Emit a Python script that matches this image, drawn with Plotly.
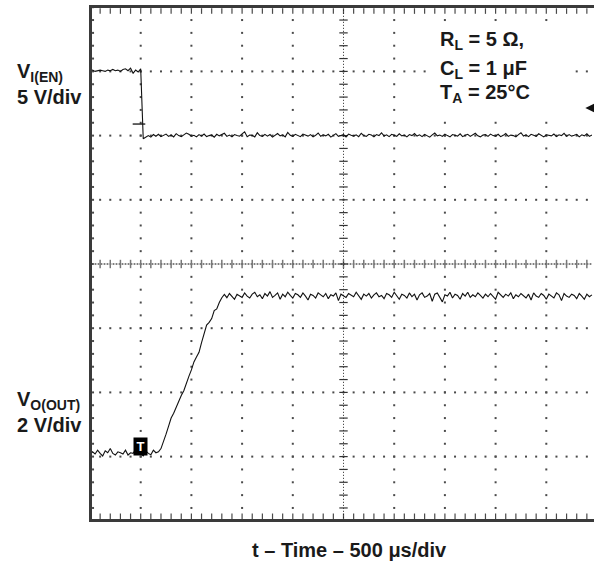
import numpy as np
import plotly.graph_objects as go

# ---------------- data ----------------
SAMPLE_US = 25            # sample interval, µs
TIME_PER_DIV_US = 500
EN_V_PER_DIV = 5          # V_I(EN) 5 V/div
OUT_V_PER_DIV = 2         # V_O(OUT) 2 V/div
EN_GND_DIV = 2            # ground position of channel 1 (divisions from centre)
OUT_GND_DIV = -3          # ground position of channel 2

EN_HIGH_V = [5.05, 5.1, 5.0, 5.05, 5.1, 5.05, 5.0, 5.1, 5.05, 5.15, 5.05, 5.1, 5.0,
             5.15, 5.2, 5.05, 5.25, 4.85, 5.1, 4.95, 5.2]
EN_LOW_V = [-0.25, -0.1, 0.0, -0.12, 0.08, -0.05, 0.1, -0.08, 0.02, 0.12,
            -0.06, 0.05, -0.1, 0.15, 0.0, -0.08, 0.06, 0.2, 0.1, -0.05,
            0.02, -0.1, 0.08, -0.04, 0.12, -0.08, 0.0, 0.05, -0.12, 0.1,
            -0.02, 0.06, 0.18, -0.06, 0.04, -0.1, 0.08, 0.0, -0.05, 0.14,
            0.3, -0.08, 0.05, 0.02, -0.1, 0.22, 0.0, -0.06, 0.1, -0.04,
            0.08, -0.12, 0.04, 0.16, -0.02, 0.06, -0.1, 0.25, 0.02, -0.06,
            0.1, 0.0, -0.08, 0.12, 0.04, -0.04, 0.08, -0.1, 0.02, 0.2,
            -0.05, 0.06, -0.02, 0.1, -0.12, 0.04, 0.15, -0.06, 0.0, 0.08,
            -0.1, 0.12, 0.02, -0.04, 0.06, -0.08, 0.18, 0.0, -0.06, 0.1,
            0.04, -0.1, 0.08, 0.0, 0.22, -0.04, 0.06, -0.08, 0.1, 0.02,
            -0.06, 0.14, -0.02, 0.04, -0.1, 0.08, 0.0, 0.16, -0.04, 0.06,
            -0.08, 0.1, 0.02, -0.12, 0.06, 0.2, -0.02, 0.04, -0.06, 0.12,
            0.0, -0.1, 0.08, 0.04, -0.04, 0.14, -0.08, 0.02, 0.1, -0.06,
            0.06, 0.18, -0.02, -0.1, 0.04, 0.08, -0.06, 0.12, 0.0, -0.04,
            0.1, -0.08, 0.02, 0.16, -0.06, 0.04, 0.0, -0.1, 0.08, 0.22,
            -0.04, 0.06, -0.08, 0.1, 0.02, -0.06, 0.14, 0.0, -0.1, 0.06,
            0.04, -0.02, 0.12, -0.08, 0.06, 0.0, 0.18, -0.06, 0.08, -0.04,
            0.02, 0.1, -0.1, 0.06, -0.02, 0.14, -0.06, 0.04]

OUT_LOW_V = [0.05, 0.15, 0.08, 0.2, 0.1, 0.02, 0.18, 0.12, 0.25, 0.1,
             0.05, 0.15, 0.12, 0.08, 0.2, 0.05, 0.12, 0.1, 0.22, 0.15,
             0.08, 0.02, 0.18, 0.1, 0.06, 0.2, 0.12, 0.15]
OUT_RAMP_V = [0.25, 0.45, 0.7, 0.95, 1.2, 1.35, 1.55, 1.75, 1.9, 2.05, 2.3, 2.5, 2.7,
              2.95, 3.1, 3.25, 3.55, 3.8, 4.1, 4.18, 4.3, 4.55, 4.6, 4.8, 4.95]
OUT_HIGH_V = [5.05, 4.95, 5.08, 5.0, 4.9, 5.06, 5.02, 4.96, 5.1, 5.0,
              4.94, 5.06, 5.12, 4.98, 5.04, 4.92, 5.08, 5.0, 5.14, 4.96,
              5.02, 5.1, 4.9, 5.06, 4.98, 5.12, 5.02, 4.94, 5.08, 5.04,
              4.96, 5.1, 5.0, 4.88, 5.06, 5.02, 4.94, 5.1, 5.04, 4.98,
              5.08, 4.92, 5.04, 5.0, 5.1, 4.86, 5.06, 5.0, 4.96, 5.08,
              5.04, 4.98, 5.12, 5.02, 4.9, 5.06, 5.0, 5.08, 4.94, 5.04,
              5.1, 4.98, 5.02, 4.92, 5.08, 5.04, 4.96, 5.12, 5.0, 4.9,
              5.06, 5.02, 4.94, 5.1, 4.98, 5.06, 4.88, 5.04, 5.1, 4.96,
              5.0, 5.08, 4.84, 5.06, 5.1, 4.96, 4.82, 5.04, 5.0, 5.12,
              4.94, 5.06, 5.02, 4.9, 5.08, 5.0, 5.12, 4.96, 5.04, 4.98,
              5.1, 5.02, 4.94, 5.06, 4.98, 5.08, 5.0, 4.9, 5.12, 5.04,
              4.96, 5.06, 5.0, 5.1, 4.92, 5.04, 4.98, 5.08, 5.02, 4.94,
              5.06, 4.88, 5.1, 5.0, 4.96, 5.08, 5.02, 4.9, 5.06, 5.0,
              4.94, 5.1, 5.04, 4.86, 5.08, 5.0, 4.96, 5.06, 5.02, 4.92,
              5.08, 5.0, 4.9, 5.06, 4.98, 5.04]

TRIG_T_US, TRIG_V = 498, 0.33          # trigger marker on channel 2
EN_CURSOR_T_US, EN_CURSOR_V = 483, 0.9  # small cursor on falling edge
EN_ARROW_T_US, EN_ARROW_V = 4885, 2.15  # channel-1 level arrow

LABEL_EN = ["V<sub>I(EN)</sub>", "5 V/div"]
LABEL_OUT = ["V<sub>O(OUT)</sub>", "2 V/div"]
COND_LINES = ["R<sub>L</sub> = 5 Ω,", "C<sub>L</sub> = 1 μF", "T<sub>A</sub> = 25°C"]
X_TITLE = "t – Time – 500 μs/div"

EN_V = EN_HIGH_V + EN_LOW_V
OUT_V = OUT_LOW_V + OUT_RAMP_V + OUT_HIGH_V

# ---------------- geometry ----------------
W, H = 594, 564
PL, PT, PB = 92, 8, 45               # plot area 92..594, 8..519
PW, PH = W - PL, H - PT - PB
X0_PX = 90.0                          # px where t = 0
DIV_X_PX = 50.7
Y0_PX = 264.0                         # px of screen centre
DIV_Y_PX = 64.2

us_per_px = TIME_PER_DIV_US / DIV_X_PX
x_range = [(PL - X0_PX) * us_per_px, (W - X0_PX) * us_per_px]
y_range = [(Y0_PX - (PT + PH)) / DIV_Y_PX, (Y0_PX - PT) / DIV_Y_PX]   # in divisions
en_range = [(y_range[0] - EN_GND_DIV) * EN_V_PER_DIV, (y_range[1] - EN_GND_DIV) * EN_V_PER_DIV]
out_range = [(y_range[0] - OUT_GND_DIV) * OUT_V_PER_DIV, (y_range[1] - OUT_GND_DIV) * OUT_V_PER_DIV]

t_en = np.arange(len(EN_V)) * SAMPLE_US
t_out = np.arange(len(OUT_V)) * SAMPLE_US

fig = go.Figure()
GRID = "#4a4a4a"

# ---- graticule dots ----
minor_x = np.arange(0, 9.9 * TIME_PER_DIV_US, TIME_PER_DIV_US / 5)
minor_y = np.arange(-4, 4.01, 0.2)
gx, gy = [], []
for k in [1, 2, 3, 4, 6, 7, 8, 9]:
    for yy in minor_y:
        gx.append(k * TIME_PER_DIV_US); gy.append(yy)
for yy in minor_y:                      # inside left edge
    gx.append(30); gy.append(yy)
for j in [-3, -2, -1, 1, 2, 3]:
    for xx in minor_x:
        gx.append(xx); gy.append(j)
fig.add_trace(go.Scatter(x=gx, y=gy, mode="markers", hoverinfo="skip",
                         marker=dict(symbol="square", size=2, color=GRID, line=dict(width=0))))
# ticks along top and bottom edges
ex = list(minor_x) * 2
ey = [3.94] * len(minor_x) + [-3.93] * len(minor_x)
fig.add_trace(go.Scatter(x=ex, y=ey, mode="markers", hoverinfo="skip",
                         marker=dict(symbol="line-ns", size=4, color=GRID,
                                     line=dict(width=1.2, color=GRID))))
# centre horizontal axis
fig.add_trace(go.Scatter(x=[x_range[0], 9.9 * TIME_PER_DIV_US], y=[0, 0], mode="lines",
                         hoverinfo="skip", line=dict(color="#9a9a9a", width=1)))
fig.add_trace(go.Scatter(x=[x_range[0], 9.9 * TIME_PER_DIV_US], y=[0, 0], mode="lines",
                         hoverinfo="skip", line=dict(color="#333", width=1, dash="1px,2px")))
fig.add_trace(go.Scatter(x=minor_x, y=[0] * len(minor_x), mode="markers", hoverinfo="skip",
                         marker=dict(symbol="line-ns", size=6, color="#777",
                                     line=dict(width=1.5, color="#777"))))
# centre vertical axis
fig.add_trace(go.Scatter(x=[5 * TIME_PER_DIV_US] * 2, y=[-4, 4], mode="lines", hoverinfo="skip",
                         line=dict(color="#222", width=1, dash="1px,2px")))
fig.add_trace(go.Scatter(x=[5 * TIME_PER_DIV_US] * len(minor_y), y=minor_y, mode="markers",
                         hoverinfo="skip",
                         marker=dict(symbol="line-ew", size=6, color="#333",
                                     line=dict(width=1.2, color="#333"))))

# ---- signal traces ----
fig.add_trace(go.Scatter(x=t_en, y=EN_V, yaxis="y2", mode="lines", name="V_I(EN)",
                         line=dict(color="#111", width=1.1)))
fig.add_trace(go.Scatter(x=t_out, y=OUT_V, yaxis="y3", mode="lines", name="V_O(OUT)",
                         line=dict(color="#111", width=1.1)))
fig.add_trace(go.Scatter(x=[EN_CURSOR_T_US], y=[EN_CURSOR_V], yaxis="y2", mode="markers",
                         hoverinfo="skip",
                         marker=dict(symbol="line-ew", size=9, color="#111",
                                     line=dict(width=1.3, color="#111"))))
fig.add_trace(go.Scatter(x=[EN_ARROW_T_US], y=[EN_ARROW_V], yaxis="y2", mode="markers",
                         hoverinfo="skip",
                         marker=dict(symbol="arrow-left", size=14, color="#111",
                                     line=dict(width=0))))

# ---- layout ----
def px_to_paper(px, py):
    return (px - PL) / PW, (PT + PH - py) / PH

FONT = "Liberation Sans, Arial, Helvetica, sans-serif"
annotations = []
def add_text(text, px, py, size=20, xanchor="left"):
    xp, yp = px_to_paper(px, py)
    annotations.append(dict(text="<b>" + text + "</b>", x=xp, y=yp, xref="paper", yref="paper",
                            xanchor=xanchor, yanchor="middle", showarrow=False,
                            font=dict(family=FONT, size=size, color="#1a1a1a")))

add_text(LABEL_EN[0], 15, 72)
add_text(LABEL_EN[1], 15, 97)
add_text(LABEL_OUT[0], 15, 400)
add_text(LABEL_OUT[1], 15, 425)
for line, cy in zip(COND_LINES, [40, 69, 93]):
    add_text(line, 438, cy)
add_text(X_TITLE, 349, 550, xanchor="center")

# trigger "T"
annotations.append(dict(text="<b>T</b>", x=TRIG_T_US, y=TRIG_V, xref="x", yref="y3",
                        showarrow=False, bgcolor="#000", width=11, height=15, borderpad=1,
                        font=dict(family=FONT, size=13, color="#fff")))

bx0, by0 = px_to_paper(427, 113)
bx1, by1 = px_to_paper(568, 25)
shapes = [dict(type="rect", xref="paper", yref="paper", x0=bx0, x1=bx1, y0=by0, y1=by1,
               fillcolor="white", line=dict(width=0), layer="above")]

fig.update_layout(
    width=W, height=H, margin=dict(l=PL, r=0, t=PT, b=PB, pad=0),
    paper_bgcolor="white", plot_bgcolor="white", showlegend=False,
    xaxis=dict(range=x_range, showgrid=False, zeroline=False, showticklabels=False, ticks="",
               showline=True, mirror=True, linewidth=3, linecolor="#3a3a3a"),
    yaxis=dict(range=y_range, showgrid=False, zeroline=False, showticklabels=False, ticks="",
               showline=True, mirror=False, linewidth=3, linecolor="#3a3a3a"),
    yaxis2=dict(range=en_range, overlaying="y", visible=False),
    yaxis3=dict(range=out_range, overlaying="y", visible=False),
    annotations=annotations, shapes=shapes,
)

fig.write_html("out.html")
